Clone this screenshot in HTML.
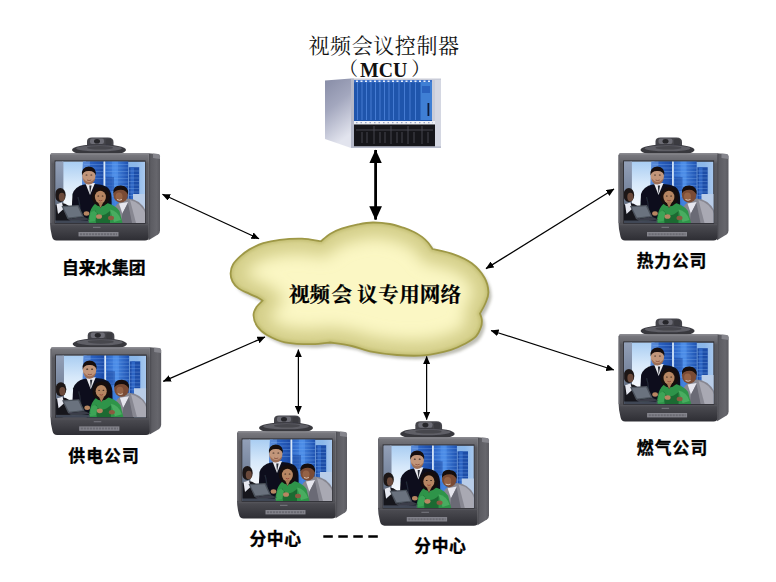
<!DOCTYPE html>
<html lang="zh-CN">
<head>
<meta charset="utf-8">
<title>视频会议专用网络</title>
<style>
  html, body { margin: 0; padding: 0; background: #ffffff; }
  body { width: 776px; height: 582px; overflow: hidden; position: relative; }
  svg { position: absolute; left: 0; top: 0; display: block; }
  .lbl { font-family: "Liberation Sans", "Noto Sans CJK SC", sans-serif; font-weight: 700; font-size: 16.800px; fill: #000; stroke: #000; stroke-width: 0.350px; }
  .ttl { font-family: "Liberation Serif", "Noto Serif CJK SC", serif; font-weight: 400; font-size: 21px; fill: #111; }
  .net { font-family: "Liberation Serif", "Noto Serif CJK SC", serif; font-weight: 700; font-size: 20.600px; fill: #000; stroke: #000; stroke-width: 0.250px; }
</style>
</head>
<body>
<svg width="776" height="582" viewBox="0 0 776 582">
  <defs>
    <filter id="b05" x="-20%" y="-20%" width="140%" height="140%"><feGaussianBlur stdDeviation="0.450"/></filter>
    <filter id="b1" x="-20%" y="-20%" width="140%" height="140%"><feGaussianBlur stdDeviation="0.7"/></filter>
    <filter id="b2" x="-20%" y="-20%" width="140%" height="140%"><feGaussianBlur stdDeviation="1.4"/></filter>
    <filter id="b6" x="-20%" y="-20%" width="140%" height="140%"><feGaussianBlur stdDeviation="7"/></filter>
    <filter id="b8" x="-20%" y="-20%" width="140%" height="140%"><feGaussianBlur stdDeviation="8"/></filter>
    <filter id="b5" x="-20%" y="-20%" width="140%" height="140%"><feGaussianBlur stdDeviation="5"/></filter>
    <filter id="b3" x="-20%" y="-20%" width="140%" height="140%"><feGaussianBlur stdDeviation="3"/></filter>

    <linearGradient id="sky" x1="0" y1="0" x2="1" y2="0">
      <stop offset="0" stop-color="#b4cce8"/>
      <stop offset="0.100" stop-color="#cfe2f6"/>
      <stop offset="0.300" stop-color="#e4effa"/>
      <stop offset="0.340" stop-color="#7fb0e4"/>
      <stop offset="0.900" stop-color="#8cb8ea"/>
      <stop offset="1" stop-color="#a8c8ee"/>
    </linearGradient>
    <linearGradient id="sky2" x1="0" y1="0" x2="0" y2="1">
      <stop offset="0" stop-color="#a9cdf2"/>
      <stop offset="0.350" stop-color="#d6e8fa"/>
      <stop offset="0.700" stop-color="#f4f8fc"/>
      <stop offset="1" stop-color="#dfe6f0"/>
    </linearGradient>
    <linearGradient id="strip" x1="0" y1="0" x2="0" y2="1">
      <stop offset="0" stop-color="#93a0b8"/>
      <stop offset="0.500" stop-color="#76849c"/>
      <stop offset="1" stop-color="#3c4250"/>
    </linearGradient>
    <linearGradient id="bld" x1="0" y1="0" x2="1" y2="0">
      <stop offset="0" stop-color="#3a74d0"/>
      <stop offset="0.500" stop-color="#2a60c0"/>
      <stop offset="1" stop-color="#1c4aa6"/>
    </linearGradient>
    <linearGradient id="bld2" x1="0" y1="0" x2="1" y2="0">
      <stop offset="0" stop-color="#2c66c8"/>
      <stop offset="0.450" stop-color="#4484e0"/>
      <stop offset="1" stop-color="#1f52b0"/>
    </linearGradient>
    <linearGradient id="tvbody" x1="0" y1="0" x2="0" y2="1">
      <stop offset="0" stop-color="#7c7c82"/>
      <stop offset="0.085" stop-color="#68686e"/>
      <stop offset="0.120" stop-color="#5a5a60"/>
      <stop offset="0.780" stop-color="#54545a"/>
      <stop offset="0.830" stop-color="#4a4a50"/>
      <stop offset="1" stop-color="#2e2e34"/>
    </linearGradient>
    <linearGradient id="tvside" x1="0" y1="0" x2="1" y2="0">
      <stop offset="0" stop-color="#47474d"/>
      <stop offset="0.200" stop-color="#5c5c62"/>
      <stop offset="0.700" stop-color="#66666c"/>
      <stop offset="1" stop-color="#5a5a60"/>
    </linearGradient>
    <clipPath id="scr"><rect x="5.5" y="24.500" width="89.500" height="61.500"/></clipPath>

    <!-- TV set with camera; origin = top-left of bounding box (110 x 103) -->
    <g id="tv">
      <!-- camera -->
      <g filter="url(#b05)">
        <path d="M37 11 L37 4.500 Q37 0.500 42 0.500 L58 0.500 Q63.500 0.500 63.500 5 L63.500 11 Z" fill="#45454b"/>
        <rect x="40" y="1.600" width="14" height="5.400" rx="2" fill="#6c6c74"/>
        <ellipse cx="47" cy="4.300" rx="3" ry="2.300" fill="#26262a"/>
        <rect x="55.500" y="2" width="6" height="6" rx="1.500" fill="#3a3a40"/>
        <ellipse cx="49" cy="13" rx="27" ry="5.600" fill="#38383e"/>
        <ellipse cx="49" cy="11.300" rx="23" ry="3" fill="#5e5e66"/>
        <ellipse cx="50" cy="10.800" rx="13" ry="1.800" fill="#47474d"/>
      </g>
      <!-- side panel -->
      <path d="M98.500 16.300 L108 17 Q110 17.300 110 19.500 L110 93.500 Q110 96 108 97.500 L98.500 103.200 Z" fill="url(#tvside)"/>
      <path d="M103 16.600 L108 17 Q110 17.300 110 19.500 L110 22 L103 21 Z" fill="#8e8e96" opacity="0.8"/>
      <!-- front body -->
      <path d="M0 18.300 Q0 16.300 2 16.300 L98.800 16.300 L98.800 100.600 Q98.800 103.500 95 103.500 L6.500 103.500 Q2.800 103.500 2 99.500 Q0 92 0 86 Z" fill="url(#tvbody)"/>
      <rect x="1" y="16.300" width="97.800" height="1.400" fill="#85858b"/>
      <rect x="0" y="18" width="1.400" height="68" fill="#6a6a70"/>
      <!-- screen -->
      <rect x="4.600" y="23.400" width="91" height="63.400" fill="#303036"/>
      <g clip-path="url(#scr)">
        <rect x="5.500" y="24.500" width="89.500" height="61.500" fill="url(#sky)"/>
        <rect x="12" y="24.500" width="24" height="61.500" fill="url(#sky2)"/>
        <g filter="url(#b05)">
          <!-- buildings -->
          <path d="M33 24 L53.600 24 L53.600 72 L31 72 Z" fill="url(#bld)"/>
          <path d="M33 24 L40 24 L38 72 L31 72 Z" fill="#6a9ae0" opacity="0.600"/>
          <rect x="55.200" y="24" width="23" height="50" fill="url(#bld2)"/>
          <rect x="78.800" y="30.200" width="10.400" height="44" fill="#1f4ea8"/>
          <rect x="80.500" y="30.200" width="3.500" height="44" fill="#2f66c4"/>
          <rect x="53.600" y="24" width="1.600" height="50" fill="#d8e6f8"/>
          <g stroke="#8cb8f2" stroke-width="0.600" opacity="0.500">
            <path d="M55.200 27.500h23M55.200 31h23M55.200 34.500h23M55.200 38h23M55.200 41.500h23M55.200 45h23M55.200 48.500h23M55.200 52h23M78.800 34h10.400M78.800 37.500h10.400M78.800 41h10.400M78.800 44.500h10.400M78.800 48h10.400M78.800 51.500h10.400M78.800 55h10.400M78.800 58.500h10.400M34 27.500h19.600M34 31h19.600M34 34.500h19.600M34 38h19.600M34 41.500h19.600"/>
          </g>
          <rect x="62" y="24" width="6" height="36" fill="#5c9cf2" opacity="0.450"/>
          <rect x="56" y="40" width="8" height="14" fill="#1c48a0" opacity="0.500"/>
          <!-- haze at bottom right -->
          <rect x="83" y="57" width="13" height="30" fill="#b9cde8"/>
          <!-- left dark strip -->
          <rect x="5" y="24" width="8.400" height="63" fill="url(#strip)"/>
          <!-- far-left person -->
          <ellipse cx="10.300" cy="58" rx="5.400" ry="6.900" fill="#1e1816"/>
          <ellipse cx="11.800" cy="60" rx="3" ry="4.200" fill="#6a4a3a"/>
          <path d="M5 68 Q12 63.500 19 69 L22 86 L5 86 Z" fill="#15151b"/>
          <path d="M6.500 67 L12 65.500 L13.500 72 L8 77Z" fill="#e6e8f0"/>
          <!-- standing man in dark suit -->
          <path d="M21 86 L22.500 57 Q25 49.500 34 47.500 Q50 45.500 57 50 Q61 53 61.500 60 L62 86 Z" fill="#0d101a"/>
          <path d="M28 60 Q31 70 30 84" stroke="#232838" stroke-width="1.200" fill="none"/>
          <path d="M35.500 46.500 L40 58 L45 46 Z" fill="#eaeaf0"/>
          <path d="M39.300 48.500 L40 57 L41.600 48.500Z" fill="#2a2e38"/>
          <ellipse cx="38.800" cy="38.800" rx="6.700" ry="8.400" fill="#c2967a"/>
          <path d="M33 41 Q34 48 39 47.600 Q44 47.300 45.300 41 Q42 45 39 45 Q36 45 33 41Z" fill="#94644c" opacity="0.800"/>
          <ellipse cx="36.500" cy="38" rx="1" ry="0.600" fill="#3a2a22"/>
          <ellipse cx="41.300" cy="38" rx="1" ry="0.600" fill="#3a2a22"/>
          <path d="M37 43 Q39 44.200 41.300 43" stroke="#7a4034" stroke-width="0.700" fill="none"/>
          <path d="M32 38.500 Q31 29.800 38.800 29.500 Q46.700 29.800 45.700 38.500 Q44.500 33.600 38.800 33.900 Q33.300 33.600 32 38.500Z" fill="#15100d"/>
          <!-- man in grey suit (right) -->
          <path d="M63 86 L64.500 71 Q68 63.500 78 61.500 Q90 62 96 74 L96 86 Z" fill="#878791"/>
          <path d="M69 66.500 L72.500 77 L78 65Z" fill="#e6e6ee"/>
          <path d="M80 63 Q92 66 96 78 L96 86 L86 86 Z" fill="#a9a9b3"/>
          <path d="M72.500 76 L78 66 L82 86 L71 86Z" fill="#6a6a74"/>
          <ellipse cx="70.600" cy="57.600" rx="7.300" ry="8" fill="#7a4c34"/>
          <ellipse cx="69" cy="59.500" rx="3.500" ry="4" fill="#9c6848" opacity="0.800"/>
          <path d="M67 62.500 Q69.500 64 72 62.500" stroke="#e8dcd0" stroke-width="0.800" fill="none"/>
          <path d="M63.400 56.500 Q62.500 48.300 71 48.500 Q79 48.800 78 57.500 Q75.500 52.500 70.500 52.800 Q65.500 52.800 63.400 56.500Z" fill="#120d0a"/>
          <!-- woman in green -->
          <path d="M37.500 86 L40 75 Q42.500 67.500 47.500 65.500 L50.500 71 L54 65.500 Q64 66.500 69.500 74 L72.500 86 Z" fill="#2f9449"/>
          <path d="M45 73 Q50 83 60 74 L60 86 L46 86Z" fill="#1d6a32"/>
          <path d="M60 72.500 Q68 74 71 83 L64 85Z" fill="#49ac60"/>
          <path d="M40.500 76 Q44 72 47 76 L45 84 L39 85Z" fill="#3ea457"/>
          <ellipse cx="50.800" cy="59.700" rx="9" ry="9.600" fill="#17110e"/>
          <ellipse cx="50.400" cy="60" rx="5.500" ry="6.300" fill="#b78662"/>
          <ellipse cx="48.300" cy="59" rx="0.900" ry="0.550" fill="#2e201a"/>
          <ellipse cx="52.600" cy="59" rx="0.900" ry="0.550" fill="#2e201a"/>
          <path d="M48.800 63.300 Q50.500 64.500 52.300 63.300" stroke="#8e3c34" stroke-width="0.800" fill="none"/>
          <path d="M48 65 L53.500 65 L50.500 71Z" fill="#a87854"/>
          <ellipse cx="36.500" cy="76.500" rx="2.800" ry="2.200" fill="#b78662"/>
          <ellipse cx="49" cy="79.500" rx="3" ry="2.300" fill="#b78662"/>
          <ellipse cx="61" cy="81" rx="3" ry="2.200" fill="#8a5a40"/>
          <!-- laptop -->
          <path d="M11.500 69 L28.500 68 L34 80 L17.500 82 Z" fill="#4c525c"/>
          <path d="M13.300 70.200 L27.500 69.300 L32 79 L18.500 80.500 Z" fill="#6a727e"/>
          <path d="M17.500 82 L34 80 L40 82.500 L22 85 Z" fill="#3a3e48"/>
          <!-- table -->
          <rect x="5" y="83.500" width="34" height="3" fill="#464c5c" opacity="0.900"/>
        </g>
      </g>
      <!-- lower bezel details -->
      <rect x="1.500" y="87" width="97" height="1.200" fill="#54545a"/>
      <rect x="43" y="89.800" width="7.500" height="1.100" fill="#74747c"/>
      <rect x="28.500" y="95" width="40" height="4.400" fill="#84848c"/>
      <path d="M30 97.200h37" stroke="#6a6a72" stroke-width="2" stroke-dasharray="2.200 0.800"/>
    </g>

    <marker id="ah" viewBox="0 0 8 7" refX="7.600" refY="3.500" markerWidth="8" markerHeight="7" markerUnits="userSpaceOnUse" orient="auto-start-reverse">
      <path d="M0 0 L8 3.500 L0 7 Z" fill="#000"/>
    </marker>
    <marker id="bh" viewBox="0 0 14 12.700" refX="13.400" refY="6.350" markerWidth="14" markerHeight="12.700" markerUnits="userSpaceOnUse" orient="auto-start-reverse">
      <path d="M0 0 L14 6.350 L0 12.700 Z" fill="#000"/>
    </marker>

    <linearGradient id="mcuside" x1="0" y1="0" x2="0.3" y2="1">
      <stop offset="0" stop-color="#878ca6"/>
      <stop offset="0.450" stop-color="#a3a7be"/>
      <stop offset="1" stop-color="#e2e4ee"/>
    </linearGradient>
    <radialGradient id="cloudg" cx="0.5" cy="0.45" r="0.6">
      <stop offset="0" stop-color="#fbf8c8"/>
      <stop offset="0.6" stop-color="#f4efb4"/>
      <stop offset="1" stop-color="#d6d088"/>
    </radialGradient>
    <path id="cloudp" d="M262.5 300.7 C261.8 300.2 260.7 299.1 258.5 298.0 C256.3 296.9 252.8 295.5 249.5 293.9 C246.2 292.3 241.3 290.5 238.5 288.4 C235.7 286.3 233.8 284.0 232.5 281.5 C231.2 279.0 230.5 276.0 230.6 273.2 C230.7 270.4 231.4 267.2 233.0 264.5 C234.6 261.8 237.2 259.2 239.9 256.7 C242.7 254.2 245.6 251.7 249.5 249.4 C253.4 247.2 258.2 244.8 263.2 243.2 C268.2 241.6 273.2 240.6 279.7 239.8 C286.2 239.0 295.1 238.4 302.0 238.6 C308.9 238.8 317.8 240.8 321.0 241.2 C322.5 240.0 326.6 236.1 330.0 234.0 C333.4 231.9 336.8 230.3 341.5 228.7 C346.2 227.1 352.8 225.4 358.0 224.4 C363.2 223.4 367.2 222.6 372.5 222.5 C377.8 222.4 384.9 223.1 390.0 224.0 C395.1 224.9 399.4 226.4 403.4 227.7 C407.4 229.0 410.9 230.5 414.0 232.0 C417.1 233.5 419.7 235.2 422.0 236.9 C424.3 238.7 426.2 240.5 428.0 242.5 C429.8 244.5 431.8 247.9 432.5 249.0 C436.1 249.9 447.2 251.9 453.8 254.3 C460.4 256.7 466.7 259.4 471.8 263.3 C476.9 267.2 481.7 272.9 484.5 277.7 C487.3 282.5 488.2 287.8 488.4 292.0 C488.6 296.2 486.9 299.4 485.5 303.0 C484.1 306.6 480.9 311.8 480.0 313.5 C480.3 314.5 481.6 317.2 481.8 319.5 C482.0 321.8 482.0 324.2 481.0 327.0 C480.0 329.8 478.5 333.7 476.0 336.4 C473.5 339.1 470.2 341.0 466.0 343.2 C461.8 345.4 458.0 347.8 451.0 349.8 C444.0 351.8 433.0 354.4 424.0 355.3 C415.0 356.2 406.0 355.7 397.0 355.0 C388.0 354.3 377.5 352.8 370.0 351.3 C362.5 349.8 358.5 347.5 351.8 346.0 C345.1 344.5 333.6 343.1 330.0 342.5 C327.0 342.8 319.5 344.2 312.0 344.2 C304.5 344.2 292.5 343.8 285.0 342.3 C277.5 340.8 271.7 337.7 267.0 335.0 C262.3 332.3 259.2 329.3 257.0 326.0 C254.8 322.7 253.6 318.5 253.5 315.3 C253.4 312.1 255.0 309.4 256.5 307.0 C258.0 304.6 261.5 301.8 262.5 300.7 Z"/>
    <clipPath id="cloudclip"><use href="#cloudp"/></clipPath>
  </defs>

  <!-- cloud -->
  <g>
    <use href="#cloudp" fill="#70705c" transform="translate(3,3.5)" filter="url(#b2)" opacity="0.45"/>
    <use href="#cloudp" fill="#fbf7c4"/>
    <g clip-path="url(#cloudclip)">
      <use href="#cloudp" fill="none" stroke="#d4cf8a" stroke-width="30" filter="url(#b8)"/>
      <use href="#cloudp" fill="none" stroke="#c4bf74" stroke-width="5" filter="url(#b2)"/>
    </g>
    <use href="#cloudp" fill="none" stroke="#9e9846" stroke-width="1.8"/>
  </g>
  <text class="net" y="302.400" x="289 309.500 331.500 357 378.200 399.200 419.700 440.400">视频会议专用网络</text>

  <!-- MCU -->
  <g id="mcu">
    <path d="M325 80.5 L351 78.5 L351 148 L325 139 Z" fill="url(#mcuside)"/>
    <rect x="351" y="78.5" width="90" height="69.5" fill="#c9ccd8"/>
    <rect x="351" y="78.5" width="3" height="69.5" fill="#b4b8c8"/>
    <rect x="354" y="80" width="78" height="41" fill="#1f55ac"/>
    <g stroke="#4a80d6" stroke-width="0.9">
      <path d="M357.5 81v39M362 81v39M366.500 81v39M371 81v39M375.500 81v39M380 81v39M384.500 81v39M389 81v39M393.500 81v39M399 81v39M404.500 81v39M410 81v39M415.500 81v39"/>
    </g>
    <rect x="354" y="80" width="78" height="2.400" fill="#3c70c8"/>
    <path d="M356 81.200H431" stroke="#e8f0fc" stroke-width="1.400" stroke-dasharray="2 2.500"/>
    <rect x="420.500" y="82" width="11.500" height="38" fill="#3f7fd4"/>
    <rect x="422" y="86" width="8" height="7" fill="#2a62be"/>
    <rect x="427.500" y="103" width="1.800" height="13" fill="#0e1c3a"/>
    <rect x="354" y="121" width="81" height="3.500" fill="#eef0f6"/>
    <path d="M356 122.600H433" stroke="#9aa4c0" stroke-width="1.200" stroke-dasharray="1.500 3"/>
    <rect x="354" y="124.500" width="81" height="22" fill="#16161a"/>
    <g stroke="#4a4a52" stroke-width="0.9">
      <path d="M356 130h77M374 126v18M391 126v18M408 126v18M422 126v18M362 132v11M367 132v11M380 132v11M385 132v11M397 132v11M402 132v11M414 132v11M428 132v11"/>
    </g>
    <rect x="435" y="80" width="6" height="66" fill="#d4d7e2"/>
    <rect x="351" y="146.500" width="90" height="1.500" fill="#b8bccc"/>
  </g>
  <text class="ttl" x="308.5" y="53" textLength="150.5" lengthAdjust="spacing">视频会议控制器</text>
  <text class="ttl" x="339" y="76.2" style="font-size:19px">（</text>
  <text class="ttl" x="360" y="77" style="font-size:20.5px;font-weight:700" textLength="47.3" lengthAdjust="spacingAndGlyphs">MCU</text>
  <text class="ttl" x="411.2" y="76.2" style="font-size:19px">）</text>

  <!-- thick arrow MCU <-> cloud -->
  <line x1="375.600" y1="150" x2="375.600" y2="219.600" stroke="#000" stroke-width="2.800" marker-start="url(#bh)" marker-end="url(#bh)"/>

  <!-- thin arrows -->
  <g stroke="#000" stroke-width="1.250" fill="none">
    <line x1="162.5" y1="194.3" x2="259" y2="238.8" marker-start="url(#ah)" marker-end="url(#ah)"/>
    <line x1="614" y1="189" x2="486" y2="268.600" marker-start="url(#ah)" marker-end="url(#ah)"/>
    <line x1="163.300" y1="381.400" x2="265" y2="337" marker-start="url(#ah)" marker-end="url(#ah)"/>
    <line x1="613.800" y1="370" x2="491" y2="330.500" marker-start="url(#ah)" marker-end="url(#ah)"/>
    <line x1="298.400" y1="349.600" x2="298.400" y2="413.700" marker-start="url(#ah)" marker-end="url(#ah)"/>
    <line x1="426.600" y1="356.400" x2="426.600" y2="419.600" marker-start="url(#ah)" marker-end="url(#ah)"/>
  </g>

  <!-- TVs -->
  <use href="#tv" x="50" y="137"/>
  <use href="#tv" x="50.500" y="331" transform="translate(50.5 331) scale(1.006 1.004) translate(-50.5 -331)"/>
  <use href="#tv" x="618.500" y="137"/>
  <use href="#tv" x="618.600" y="318"/>
  <use href="#tv" x="237" y="415"/>
  <use href="#tv" x="378" y="420.700" transform="translate(378 420.7) scale(1.009 1.014) translate(-378 -420.7)"/>

  <!-- labels -->
  <text class="lbl" x="62" y="273.5" textLength="83.5" lengthAdjust="spacing">自来水集团</text>
  <text class="lbl" x="68.300" y="461.700" textLength="70.500" lengthAdjust="spacing">供电公司</text>
  <text class="lbl" x="636.800" y="267" textLength="69.500" lengthAdjust="spacing">热力公司</text>
  <text class="lbl" x="636.800" y="454.300" textLength="70.500" lengthAdjust="spacing">燃气公司</text>
  <text class="lbl" x="249.500" y="545.400" textLength="51.5" lengthAdjust="spacing">分中心</text>
  <text class="lbl" x="414.300" y="552.400" textLength="51.5" lengthAdjust="spacing">分中心</text>
  <line x1="323.300" y1="536.500" x2="378" y2="536.500" stroke="#000" stroke-width="2.300" stroke-dasharray="9.500 5.500"/>
</svg>
</body>
</html>
